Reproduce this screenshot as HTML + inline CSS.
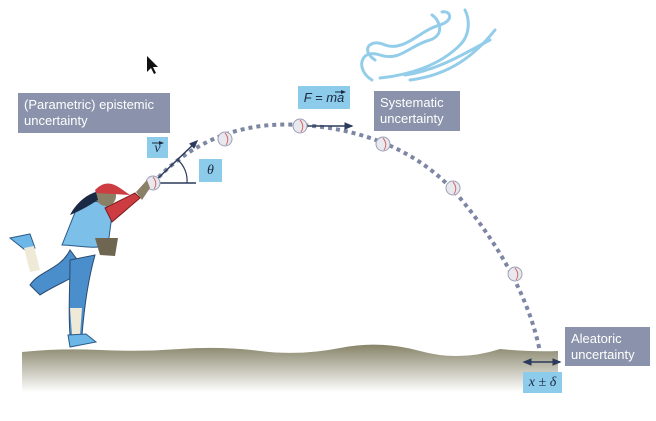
<!DOCTYPE html>
<html><head><meta charset="utf-8"><style>
body{margin:0;background:#fff;width:656px;height:421px;overflow:hidden;font-family:"Liberation Sans",sans-serif}
.g{position:absolute;background:#8a93ab;color:#fff;font-size:13px;line-height:16px;padding:4px 6px;box-sizing:border-box}
.b{position:absolute;background:#8ccbea;color:#1d2740;font-family:"Liberation Serif",serif;font-style:italic;font-size:14px;text-align:center;box-sizing:border-box}
</style></head><body>
<svg width="656" height="421" style="position:absolute;left:0;top:0">
<defs><linearGradient id="gr" x1="0" y1="0" x2="0" y2="1"><stop offset="0" stop-color="#878469"/><stop offset="1" stop-color="#fff"/></linearGradient>
<marker id="ar" markerWidth="6" markerHeight="6" refX="5" refY="3" orient="auto"><path d="M0,0.5 L6,3 L0,5.5z" fill="#2c3a5c"/></marker>
<marker id="al" markerWidth="6" markerHeight="6" refX="1" refY="3" orient="auto"><path d="M6,0.5 L0,3 L6,5.5z" fill="#2c3a5c"/></marker></defs>
<path d="M22,352 Q60,348 100,350 T180,349 T260,351 T340,348 T420,351 T500,349 Q530,352 558,351 L558,392 L22,392z" fill="url(#gr)"/>
<g fill="none" stroke="#93cdea" stroke-width="3" stroke-linecap="round">
<path d="M372,80 C355,70 360,48 380,55 C400,62 410,45 430,40 C445,35 440,20 432,15"/>
<path d="M375,60 C360,50 370,38 385,45 C405,52 420,30 440,25 C455,20 450,10 442,12"/>
<path d="M380,78 C410,75 440,65 460,45 C470,35 470,20 465,10"/>
<path d="M410,80 C450,75 475,55 495,30"/>
<path d="M405,75 C440,70 470,50 490,40"/>
</g>
<path d="M147,56 L147,72 L151,68 L154,74 L156,73 L153,67 L158,67z" fill="#111"/>
<path d="M153,183 C200,132 255,122 300,125 C360,128 420,150 460,198 C500,246 530,300 540,352" fill="none" stroke="#7d87a3" stroke-width="4" stroke-dasharray="4,4"/>
<line x1="153" y1="183" x2="197" y2="141" stroke="#2c3a5c" stroke-width="1.5" marker-end="url(#ar)"/>
<line x1="153" y1="183" x2="196" y2="183" stroke="#2c3a5c" stroke-width="1.5"/>
<path d="M178,160 A28,28 0 0 1 187,183" fill="none" stroke="#2c3a5c" stroke-width="1.2"/>
<line x1="300" y1="126" x2="352" y2="126" stroke="#2c3a5c" stroke-width="1.5" marker-end="url(#ar)"/>
<line x1="524" y1="362" x2="560" y2="362" stroke="#2c3a5c" stroke-width="1.5" marker-end="url(#ar)" marker-start="url(#al)"/>
<g fill="#e8e8ee" stroke="#9aa0b5" stroke-width="1">
<circle cx="153" cy="183" r="7"/><circle cx="225" cy="139" r="7"/><circle cx="300" cy="126" r="7"/><circle cx="383" cy="144" r="7"/><circle cx="453" cy="188" r="7"/><circle cx="515" cy="274" r="7"/></g>
<g fill="none" stroke="#d46a6a" stroke-width="1"><path d="M225,133 Q230,139 226,145"/><path d="M300,120 Q305,126 301,132"/><path d="M383,138 Q388,144 384,150"/><path d="M453,182 Q458,188 454,194"/><path d="M515,268 Q520,274 516,280"/><path d="M153,177 Q158,183 154,189"/></g>
<path d="M70,250 C60,270 40,270 30,285 L40,295 C55,285 70,280 85,270z" fill="#4a8fcb" stroke="#2a4a70"/>
<path d="M10,238 L30,234 L35,248 L25,250z" fill="#6cb6e8" stroke="#2a5a88"/>
<path d="M24,248 L34,246 L40,270 L30,272z" fill="#efe9d8"/>
<path d="M70,260 C70,290 68,310 70,335 L82,335 C84,310 88,280 95,255z" fill="#4a8fcb" stroke="#2a4a70"/>
<path d="M70,308 L82,308 L80,335 L72,335z" fill="#efe9d8"/>
<path d="M68,335 L86,334 L96,342 L70,347z" fill="#6cb6e8" stroke="#2a5a88"/>
<path d="M78,205 C88,198 110,200 112,215 L108,245 C95,250 75,245 62,245z" fill="#7cbfe8" stroke="#2a5a88"/>
<path d="M105,208 L135,193 L140,198 L112,222z" fill="#cc3c40" stroke="#7a1c1c"/>
<path d="M136,192 L147,180 L150,188 L142,200z" fill="#8a8065"/>
<path d="M95,238 L118,238 L115,256 L100,255z" fill="#6e6650"/>
<circle cx="106" cy="196" r="10" fill="#8a8065"/>
<path d="M95,190 Q106,178 120,188 L130,195 L96,193z" fill="#cc3c40"/>
<path d="M96,192 C85,195 75,205 70,215 C82,210 90,205 98,200z" fill="#1b2a44"/>
</svg>
<div class="g" style="left:18px;top:93px;width:152px;height:40px">(Parametric) epistemic uncertainty</div>
<div class="g" style="left:374px;top:91px;width:86px;height:40px">Systematic uncertainty</div>
<div class="g" style="left:565px;top:327px;width:85px;height:39px">Aleatoric uncertainty</div>
<div class="b" style="left:147px;top:137px;width:21px;height:21px;line-height:24px">v</div>
<div class="b" style="left:199px;top:159px;width:23px;height:23px;line-height:23px">θ</div>
<div class="b" style="left:298px;top:86px;width:52px;height:23px;line-height:23px;font-family:'Liberation Sans',sans-serif;font-size:13px">F = ma</div>
<div class="b" style="left:523px;top:372px;width:39px;height:21px;line-height:21px">x ± δ</div>
<svg width="656" height="421" style="position:absolute;left:0;top:0">
<defs><marker id="a2" markerWidth="5" markerHeight="5" refX="4" refY="2.5" orient="auto"><path d="M0,0.5 L5,2.5 L0,4.5z" fill="#1d2740"/></marker></defs>
<line x1="152" y1="143" x2="163" y2="143" stroke="#1d2740" stroke-width="1" marker-end="url(#a2)"/>
<line x1="335" y1="92" x2="345" y2="92" stroke="#1d2740" stroke-width="1" marker-end="url(#a2)"/>
</svg>
</body></html>
